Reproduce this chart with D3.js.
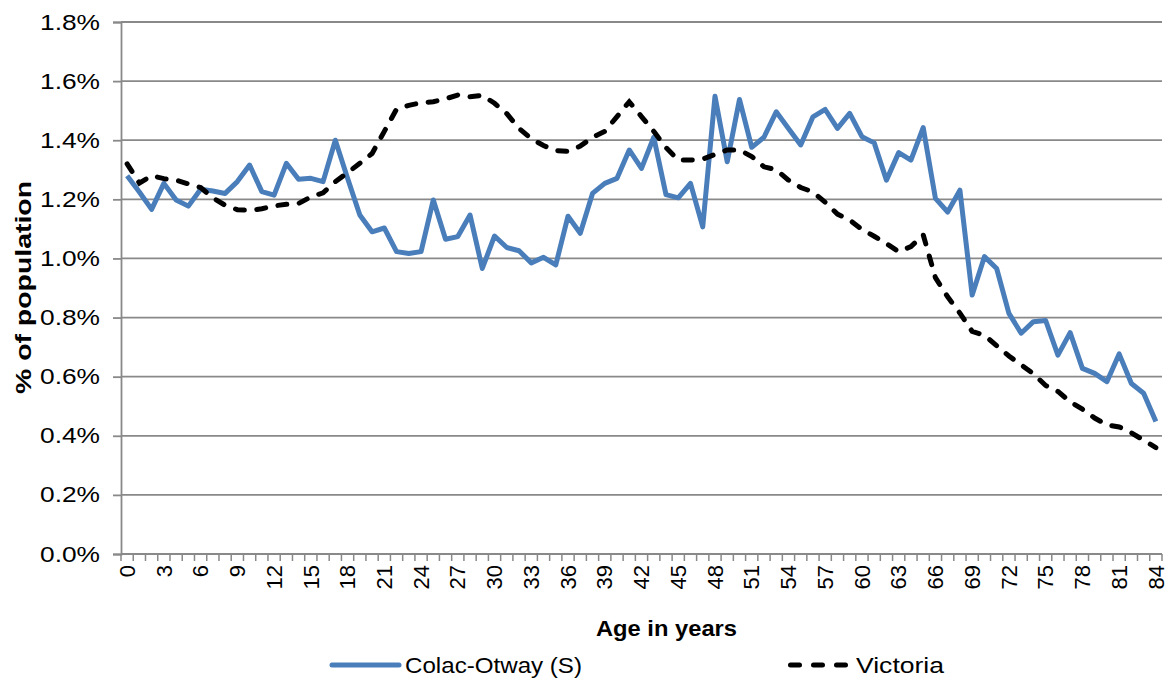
<!DOCTYPE html>
<html>
<head>
<meta charset="utf-8">
<script src="https://cdn.jsdelivr.net/npm/d3@7"></script>
<style>
  body { margin: 0; background: #fff; }
  text { font-family: "Liberation Sans", Arial, sans-serif; fill: #000; }
</style>
</head>
<body>
<svg id="chart" width="1170" height="681"></svg>
<script>
// data (% of population by single year of age)
const ages = d3.range(0, 85);

const colacOtway = [
  1.28, 1.225, 1.166, 1.254, 1.198, 1.177, 1.234, 1.228, 1.22, 1.26,
  1.316, 1.226, 1.214, 1.322, 1.268, 1.271, 1.26, 1.40, 1.271, 1.147,
  1.09, 1.103, 1.023, 1.017, 1.023, 1.198, 1.065, 1.074, 1.147, 0.966,
  1.076, 1.037, 1.026, 0.985, 1.004, 0.978, 1.143, 1.085, 1.22, 1.254,
  1.271, 1.367, 1.305, 1.41, 1.216, 1.205, 1.254, 1.107, 1.549, 1.327,
  1.538, 1.376, 1.41, 1.496, 1.44, 1.384, 1.479, 1.504, 1.44, 1.491,
  1.412, 1.391, 1.265, 1.358, 1.333, 1.443, 1.203, 1.157, 1.231, 0.876,
  1.006, 0.966, 0.814, 0.747, 0.786, 0.79, 0.673, 0.749, 0.628, 0.611,
  0.583, 0.677, 0.577, 0.544, 0.448
];

const victoria = [
  1.32, 1.255, 1.28, 1.27, 1.265, 1.252, 1.24, 1.205, 1.18, 1.165,
  1.163, 1.168, 1.178, 1.183, 1.186, 1.208, 1.222, 1.26, 1.29, 1.322,
  1.355, 1.43, 1.505, 1.518, 1.527, 1.53, 1.54, 1.553, 1.547, 1.552,
  1.525, 1.49, 1.44, 1.405, 1.382, 1.365, 1.362, 1.38, 1.41, 1.43,
  1.48, 1.53, 1.48, 1.43, 1.375, 1.333, 1.333, 1.336, 1.352, 1.367,
  1.367, 1.345, 1.31, 1.30, 1.265, 1.24, 1.225, 1.19, 1.15, 1.13,
  1.098, 1.075, 1.05, 1.023, 1.04, 1.08, 0.935, 0.87, 0.815, 0.753,
  0.74, 0.705, 0.67, 0.64, 0.61, 0.57, 0.55, 0.515, 0.49, 0.46,
  0.437, 0.43, 0.41, 0.385, 0.36
];

const yTicks = [0, 0.2, 0.4, 0.6, 0.8, 1.0, 1.2, 1.4, 1.6, 1.8];
const seriesNames = ["Colac-Otway (S)", "Victoria"];

const svg = d3.select("#chart");
const plotL = 121, plotR = 1162, plotT = 22, plotB = 554;

const x = d3.scaleBand().domain(ages).range([plotL, plotR]);
const y = d3.scaleLinear().domain([0, 1.8]).range([plotB, plotT]);
const cx = d => x(d) + x.bandwidth() / 2;

const grey = "#898989";

// gridlines
svg.append("g")
  .selectAll("line")
  .data(yTicks.slice(1))
  .enter().append("line")
  .attr("x1", plotL).attr("x2", plotR)
  .attr("y1", d => y(d)).attr("y2", d => y(d))
  .attr("stroke", grey).attr("stroke-width", 1.8);

// y axis
const yAxis = svg.append("g")
  .attr("transform", `translate(${plotL},0)`)
  .call(d3.axisLeft(y).tickValues(yTicks).tickSize(8).tickPadding(13)
    .tickFormat(d => d.toFixed(1) + "%"));
yAxis.select(".domain").attr("stroke", grey).attr("stroke-width", 1.8);
yAxis.selectAll(".tick line").attr("stroke", grey).attr("stroke-width", 1.8);
yAxis.selectAll("text")
  .attr("font-size", 22).attr("font-family", null)
  .attr("x", -21).attr("text-anchor", "start")
  .attr("dx", -60)
  .attr("textLength", 60).attr("lengthAdjust", "spacingAndGlyphs");

// x axis: ticks on band edges, labels every 3 years
const xg = svg.append("g");
xg.append("line")
  .attr("x1", plotL).attr("x2", plotR)
  .attr("y1", plotB).attr("y2", plotB)
  .attr("stroke", grey).attr("stroke-width", 1.8);
xg.selectAll(".tk")
  .data(ages.concat([85]))
  .enter().append("line")
  .attr("x1", d => d < 85 ? x(d) : plotR)
  .attr("x2", d => d < 85 ? x(d) : plotR)
  .attr("y1", plotB).attr("y2", plotB + 7)
  .attr("stroke", grey).attr("stroke-width", 1.5);
xg.selectAll(".lbl")
  .data(ages.filter(d => d % 3 === 0))
  .enter().append("text")
  .attr("transform", d => `translate(${cx(d)},${plotB + 11}) rotate(-90)`)
  .attr("dy", "0.35em")
  .attr("text-anchor", "end")
  .attr("font-size", 22)
  .text(d => d);

// axis titles
svg.append("text")
  .attr("transform", `translate(31,${(plotT + plotB) / 2 + 106}) rotate(-90)`)
  .attr("font-size", 22).attr("font-weight", "bold")
  .attr("textLength", 213).attr("lengthAdjust", "spacingAndGlyphs")
  .text("% of population");
svg.append("text")
  .attr("x", 596).attr("y", 636)
  .attr("font-size", 22).attr("font-weight", "bold")
  .attr("textLength", 141).attr("lengthAdjust", "spacingAndGlyphs")
  .text("Age in years");

// lines
const line = d3.line().x((d, i) => cx(ages[i])).y(d => y(d));

svg.append("path")
  .datum(colacOtway)
  .attr("d", line)
  .attr("fill", "none")
  .attr("stroke", "#4a7ebb")
  .attr("stroke-width", 5)
  .attr("stroke-linejoin", "round");

svg.append("path")
  .datum(victoria)
  .attr("d", line)
  .attr("fill", "none")
  .attr("stroke", "#000")
  .attr("stroke-width", 5)
  .attr("stroke-linecap", "round")
  .attr("stroke-dasharray", "9,12.5");

// legend
const lg = svg.append("g");
lg.append("line")
  .attr("x1", 332).attr("x2", 399).attr("y1", 665).attr("y2", 665)
  .attr("stroke", "#4a7ebb").attr("stroke-width", 5).attr("stroke-linecap", "round");
lg.append("text")
  .attr("x", 405).attr("y", 673).attr("font-size", 22)
  .attr("textLength", 177).attr("lengthAdjust", "spacingAndGlyphs")
  .text(seriesNames[0]);
lg.append("line")
  .attr("x1", 790.5).attr("x2", 846.5).attr("y1", 665).attr("y2", 665)
  .attr("stroke", "#000").attr("stroke-width", 5).attr("stroke-linecap", "round")
  .attr("stroke-dasharray", "9,14");
lg.append("text")
  .attr("x", 856).attr("y", 673).attr("font-size", 22)
  .attr("textLength", 88).attr("lengthAdjust", "spacingAndGlyphs")
  .text(seriesNames[1]);
</script>
</body>
</html>
